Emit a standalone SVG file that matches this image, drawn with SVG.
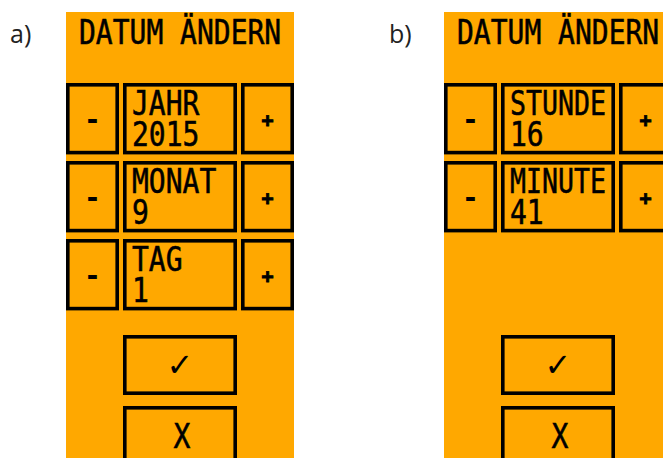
<svg xmlns="http://www.w3.org/2000/svg" width="663" height="458" viewBox="0 0 663 458">
<style>
.panel{fill:#ffa800}
.btn{fill:#ffa800;stroke:#000;stroke-width:3.6}
.t{font-family:"DejaVu Sans Mono","Liberation Mono",monospace;font-size:28px;fill:#000;stroke:#000;stroke-width:.45}
.m{font-family:"DejaVu Sans Mono","Liberation Mono",monospace;font-size:28px;fill:#000;font-weight:bold;text-anchor:middle}
.p{font-family:"DejaVu Sans Mono","Liberation Mono",monospace;font-size:20px;fill:#000;stroke:#000;stroke-width:.8;font-weight:bold;text-anchor:middle}
.c{font-family:"DejaVu Sans",sans-serif;font-size:32px;fill:#000;text-anchor:middle}
.l{font-family:"Open Sans","Noto Sans",sans-serif;font-size:25px;fill:#222}
</style>
<rect width="663" height="458" fill="#fff"/>
<text class="l" x="10" y="43">a)</text>
<text class="l" x="389" y="43">b)</text>
<g id="screen-a">
<rect class="panel" x="66" y="12" width="228" height="446"/>
<text class="t" transform="translate(79 44) scale(1 1.214)">DATUM ÄNDERN</text>
<g id="a-jahr">
<rect class="btn" x="67.800" y="84.8" width="49.4" height="67.800"/>
<rect class="btn" x="124.800" y="84.8" width="110.4" height="67.800"/>
<rect class="btn" x="242.800" y="84.8" width="49.4" height="67.800"/>
<text class="m" x="92.500" y="129">-</text>
<text class="p" x="267.500" y="127">+</text>
<text class="t" transform="translate(132 115) scale(1 1.214)">JAHR</text>
<text class="t" transform="translate(132 146) scale(1 1.214)">2015</text>
</g>
<g id="a-monat">
<rect class="btn" x="67.800" y="162.800" width="49.4" height="67.800"/>
<rect class="btn" x="124.800" y="162.800" width="110.4" height="67.800"/>
<rect class="btn" x="242.800" y="162.800" width="49.4" height="67.800"/>
<text class="m" x="92.500" y="207">-</text>
<text class="p" x="267.500" y="205">+</text>
<text class="t" transform="translate(132 193) scale(1 1.214)">MONAT</text>
<text class="t" transform="translate(132 224) scale(1 1.214)">9</text>
</g>
<g id="a-tag">
<rect class="btn" x="67.800" y="240.800" width="49.4" height="67.800"/>
<rect class="btn" x="124.800" y="240.800" width="110.4" height="67.800"/>
<rect class="btn" x="242.800" y="240.800" width="49.4" height="67.800"/>
<text class="m" x="92.500" y="285">-</text>
<text class="p" x="267.500" y="283">+</text>
<text class="t" transform="translate(132 271) scale(1 1.214)">TAG</text>
<text class="t" transform="translate(132 302) scale(1 1.214)">1</text>
</g>
<g id="a-ok">
<rect class="btn" x="124.800" y="336.800" width="110.4" height="56.4"/>
<text class="c" x="180" y="376">✓</text>
</g>
<g id="a-cancel">
<rect class="btn" x="124.800" y="407.800" width="110.4" height="70"/>
<text class="t" transform="translate(173.600 448) scale(1 1.214)">X</text>
</g>
</g>
<g id="screen-b">
<rect class="panel" x="444" y="12" width="219" height="446"/>
<text class="t" transform="translate(457 44) scale(1 1.214)">DATUM ÄNDERN</text>
<g id="b-stunde">
<rect class="btn" x="445.800" y="84.8" width="49.4" height="67.800"/>
<rect class="btn" x="502.800" y="84.8" width="110.4" height="67.800"/>
<rect class="btn" x="620.800" y="84.8" width="49.4" height="67.800"/>
<text class="m" x="470.500" y="129">-</text>
<text class="p" x="645.500" y="127">+</text>
<text class="t" transform="translate(510 115) scale(.95 1.214)">STUNDE</text>
<text class="t" transform="translate(510 146) scale(1 1.214)">16</text>
</g>
<g id="b-minute">
<rect class="btn" x="445.800" y="162.800" width="49.4" height="67.800"/>
<rect class="btn" x="502.800" y="162.800" width="110.4" height="67.800"/>
<rect class="btn" x="620.800" y="162.800" width="49.4" height="67.800"/>
<text class="m" x="470.500" y="207">-</text>
<text class="p" x="645.500" y="205">+</text>
<text class="t" transform="translate(510 193) scale(.95 1.214)">MINUTE</text>
<text class="t" transform="translate(510 224) scale(1 1.214)">41</text>
</g>
<g id="b-ok">
<rect class="btn" x="502.800" y="336.800" width="110.4" height="56.4"/>
<text class="c" x="558" y="376">✓</text>
</g>
<g id="b-cancel">
<rect class="btn" x="502.800" y="407.800" width="110.4" height="70"/>
<text class="t" transform="translate(551.600 448) scale(1 1.214)">X</text>
</g>
</g>
</svg>
